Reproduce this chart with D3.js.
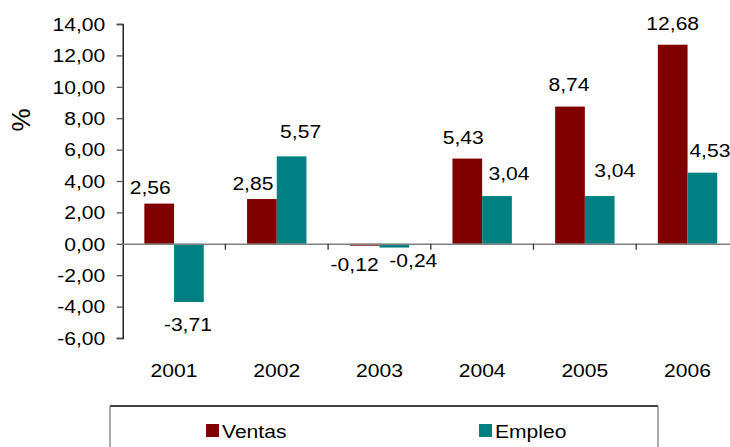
<!DOCTYPE html>
<html>
<head>
<meta charset="utf-8">
<script src="https://cdn.jsdelivr.net/npm/d3@7"></script>
<style>
  html, body { margin: 0; padding: 0; background: #fff; }
  svg { display: block; }
  text { font-family: "Liberation Sans", Arial, sans-serif; fill: #000; }
</style>
</head>
<body>
<svg id="chart" width="730" height="447"></svg>
<script>
// Annual change (%) of sales and employment
const years = ["2001", "2002", "2003", "2004", "2005", "2006"];
const seriesNames = ["Ventas", "Empleo"];
const ventas = [2.56, 2.85, -0.12, 5.43, 8.74, 12.68];
const empleo = [-3.71, 5.57, -0.24, 3.04, 3.04, 4.53];
const yTicks = [-6, -4, -2, 0, 2, 4, 6, 8, 10, 12, 14];

// Hand placement of the value labels: [dx from bar centre, gap from bar end to baseline]
const ventasLabelNudge = [[-9, 10], [-9, 9], [-10, 25], [-4, 15], [-1, 16], [0, 15]];
const empleoLabelNudge = [[-1, 29], [9, 18], [19, 19], [12, 16], [15, 19], [7.5, 16]];

const colors = { Ventas: "#800000", Empleo: "#008080" };
const FONT = "18.5px";
const SX = 1.14; // wide lettering

const locale = d3.formatLocale({ decimal: ",", thousands: ".", grouping: [3], currency: ["", "€"], minus: "-" });
const fmt = locale.format(".2f");

const svg = d3.select("#chart");
const left = 122.7, bandW = 102.7;

const x0 = d3.scaleBand().domain(years).range([left, left + bandW * years.length]).padding(0);
const x1 = d3.scaleBand().domain(seriesNames).range([21.65, 81.05]).padding(0);
const y = d3.scaleLinear().domain([-6, 14]).range([338, 24]);

// place a wide text at (cx, cy)
function wide(sel, cx, cy) {
  sel.attr("x", 0).attr("y", 0)
    .attr("transform", (d, i) => `translate(${cx(d, i)},${cy(d, i)}) scale(${SX},1)`)
    .style("font-size", FONT);
}

// Y axis
const yAxis = svg.append("g")
  .attr("transform", `translate(${left},0)`)
  .call(d3.axisLeft(y).tickValues(yTicks).tickSize(6).tickFormat(fmt));
yAxis.select(".domain").attr("stroke", "#000").attr("stroke-width", 1.3);
yAxis.selectAll(".tick line").attr("stroke", "#555").attr("stroke-width", 1.3);
yAxis.selectAll(".tick text")
  .attr("fill", "#000").attr("dy", "0.34em")
  .call(wide, () => -17.5, () => 0);

// Y title
svg.append("text")
  .attr("transform", `translate(30,120) rotate(-90)`)
  .attr("text-anchor", "middle")
  .style("font-size", "26px")
  .text("%");

// Bars
const rows = years.map((yr, i) => ({
  year: yr,
  values: [
    { key: "Ventas", value: ventas[i], nudge: ventasLabelNudge[i] },
    { key: "Empleo", value: empleo[i], nudge: empleoLabelNudge[i] }
  ]
}));

const groups = svg.append("g").selectAll("g")
  .data(rows).join("g")
  .attr("transform", d => `translate(${x0(d.year)},0)`);

groups.selectAll("rect")
  .data(d => d.values).join("rect")
  .attr("x", d => x1(d.key))
  .attr("width", x1.bandwidth())
  .attr("y", d => y(Math.max(0, d.value)))
  .attr("height", d => Math.abs(y(d.value) - y(0)))
  .attr("fill", d => colors[d.key]);

// Zero line with category ticks
const xAxis = svg.append("g")
  .attr("transform", `translate(0,${y(0)})`)
  .call(d3.axisBottom(x0).tickSize(0).tickFormat(""));
xAxis.select(".domain").attr("stroke", "#808080").attr("stroke-width", 1.5);
xAxis.selectAll(".tick").remove();

svg.append("g").selectAll("line")
  .data(d3.range(1, years.length + 1))
  .join("line")
  .attr("x1", i => left + i * bandW).attr("x2", i => left + i * bandW)
  .attr("y1", y(0)).attr("y2", y(0) + 6)
  .attr("stroke", "#333").attr("stroke-width", 1.3);

// Category labels
svg.append("g").selectAll("text")
  .data(years).join("text")
  .attr("text-anchor", "middle")
  .text(d => d)
  .call(wide, d => x0(d) + bandW / 2, () => 377);

// Value labels
groups.selectAll("text.val")
  .data(d => d.values).join("text")
  .attr("class", "val")
  .attr("text-anchor", "middle")
  .text(d => fmt(d.value))
  .call(wide,
    d => x1(d.key) + x1.bandwidth() / 2 + d.nudge[0],
    d => d.value >= 0 ? y(d.value) - d.nudge[1] : y(d.value) + d.nudge[1]);

// Legend
const legend = svg.append("g");
legend.append("rect")
  .attr("x", 110).attr("y", 406).attr("width", 548).attr("height", 60)
  .attr("fill", "#fff").attr("stroke", "none");
legend.append("line").attr("x1", 110).attr("x2", 658).attr("y1", 406).attr("y2", 406)
  .attr("stroke", "#000").attr("stroke-width", 1.3);
legend.append("line").attr("x1", 110).attr("x2", 110).attr("y1", 406).attr("y2", 447)
  .attr("stroke", "#808080").attr("stroke-width", 1.3);
legend.append("line").attr("x1", 658).attr("x2", 658).attr("y1", 406).attr("y2", 447)
  .attr("stroke", "#808080").attr("stroke-width", 1.3);

const legendX = { Ventas: 206, Empleo: 479 };
const items = legend.selectAll("g.item")
  .data(seriesNames).join("g")
  .attr("class", "item")
  .attr("transform", d => `translate(${legendX[d]},424)`);
items.append("rect").attr("width", 13).attr("height", 13).attr("fill", d => colors[d]);
items.append("text").call(wide, () => 16, () => 13.5).text(d => d);
</script>
</body>
</html>
